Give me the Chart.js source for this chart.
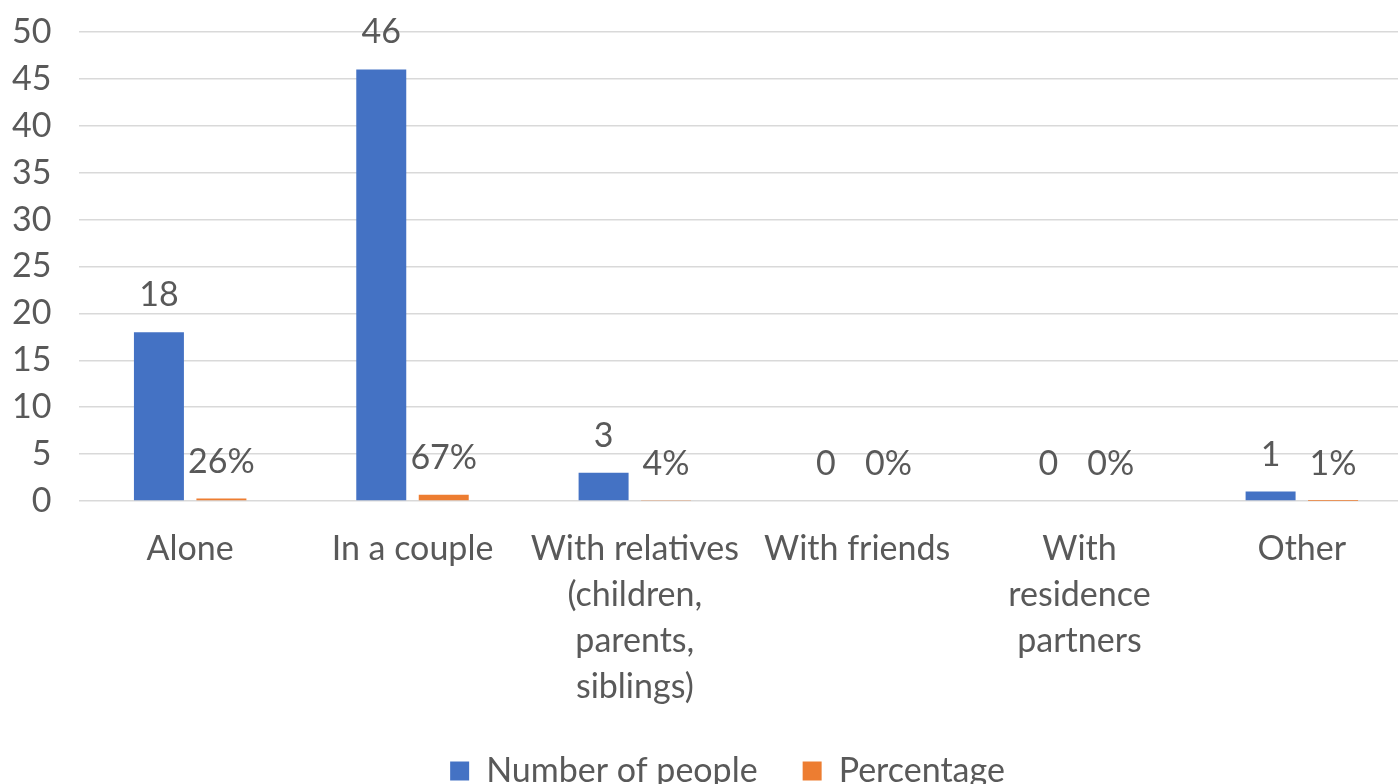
<!DOCTYPE html>
<html>
<head>
<meta charset="utf-8">
<script src="https://cdn.jsdelivr.net/npm/chart.js@4.4.1/dist/chart.umd.min.js"></script>
<style>
  html, body { margin: 0; padding: 0; background: #ffffff; overflow: hidden; }
  #wrap { position: relative; width: 1398px; height: 784px; overflow: hidden; }
  #box { position: absolute; left: 0; top: 0; width: 1455px; height: 798px; }
</style>
</head>
<body>
<div id="wrap"><div id="box"><canvas id="c"></canvas></div></div>
<script>
const categories = ['Alone', 'In a couple', ['With relatives', '(children,', 'parents,', 'siblings)'], 'With friends', ['With', 'residence', 'partners'], 'Other'];
const peopleCounts = [18, 46, 3, 0, 0, 1];
const percentages = [0.26, 0.67, 0.04, 0, 0, 0.01];
const seriesNames = ['Number of people', 'Percentage'];
const yMin = 0, yMax = 50, yStep = 5;

const FONT = 'Lato';
const FS = 34;
const TXT = '#595959';

const labelPlugin = {
  id: 'valueLabels',
  afterDatasetsDraw(chart) {
    const ctx = chart.ctx;
    ctx.save();
    ctx.font = FS + 'px ' + FONT;
    ctx.fillStyle = TXT;
    ctx.textAlign = 'center';
    ctx.textBaseline = 'middle';
    chart.data.datasets.forEach((ds, di) => {
      const meta = chart.getDatasetMeta(di);
      meta.data.forEach((bar, i) => {
        const v = ds.data[i];
        const t = di === 0 ? String(v) : Math.round(v * 100) + '%';
        ctx.fillText(t, bar.x, bar.y - 37);
      });
    });
    ctx.restore();
  }
};

new Chart(document.getElementById('c'), {
  type: 'bar',
  data: {
    labels: categories,
    datasets: [
      { label: seriesNames[0], data: peopleCounts, backgroundColor: '#4472C4', borderWidth: 0 },
      { label: seriesNames[1], data: percentages, backgroundColor: '#ED7D31', borderWidth: 0 }
    ]
  },
  options: {
    responsive: true,
    maintainAspectRatio: false,
    animation: false,
    devicePixelRatio: 1,
    categoryPercentage: 0.562,
    barPercentage: 0.8,
    layout: { padding: { left: 42, right: 42, top: 32, bottom: 0 } },
    plugins: {
      legend: {
        position: 'bottom',
        labels: {
          font: { family: FONT, size: FS },
          color: TXT,
          boxWidth: 19,
          boxHeight: 19,
          padding: 45
        }
      },
      tooltip: { enabled: false }
    },
    scales: {
      x: {
        grid: { display: false, drawTicks: false },
        border: { display: false },
        ticks: {
          font: { family: FONT, size: FS, lineHeight: 46 / FS },
          color: TXT,
          padding: 25,
          maxRotation: 0,
          autoSkip: false
        },
        afterFit(s) { s.height = 208; }
      },
      y: {
        min: yMin,
        max: yMax,
        grid: { color: '#d9d9d9', lineWidth: 1.5, drawTicks: false },
        border: { display: false },
        ticks: {
          stepSize: yStep,
          font: { family: FONT, size: FS },
          color: TXT,
          mirror: true,
          crossAlign: 'far',
          padding: -67
        },
        afterFit(s) { s.width = 37; }
      }
    }
  },
  plugins: [labelPlugin]
});
</script>
</body>
</html>
